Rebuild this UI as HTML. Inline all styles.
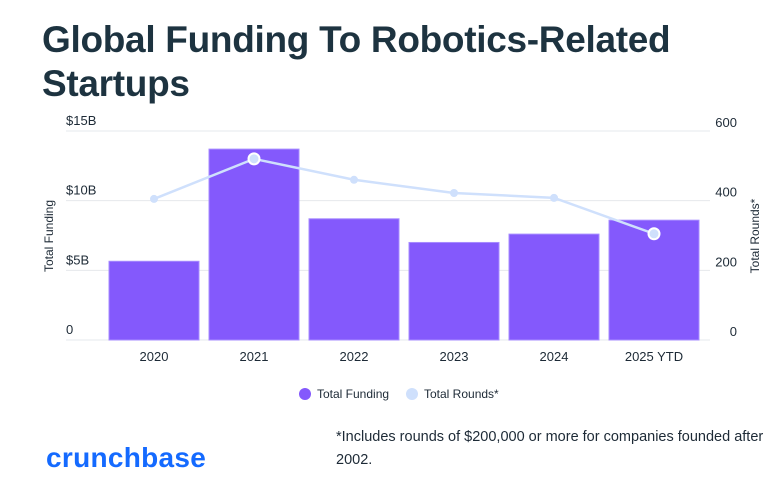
<!DOCTYPE html>
<html><head><meta charset="utf-8"><style>
body{margin:0;width:784px;height:484px;background:#fff;font-family:"Liberation Sans",sans-serif;overflow:hidden;position:relative}
h1{position:absolute;left:42px;top:18px;margin:0;font-size:37px;line-height:44px;color:#1d3340;font-weight:bold;letter-spacing:-0.3px}
.note{position:absolute;left:336px;top:426px;font-size:14.5px;line-height:23px;color:#1d2a36;width:440px}
.logo{position:absolute;left:46px;top:442px;font-size:28px;font-weight:bold;color:#146aff;letter-spacing:0.3px}
</style></head><body>
<h1>Global Funding To Robotics-Related<br>Startups</h1>
<svg id="chart" width="784" height="484" style="position:absolute;left:0;top:0"></svg>
<div class="note">*Includes rounds of $200,000 or more for companies founded after 2002.</div>
<div class="logo">crunchbase</div>
<script>
const categories=["2020","2021","2022","2023","2024","2025 YTD"];
const funding=[5.65,13.7,8.7,7.0,7.6,8.6];
const rounds=[405,520,460,422,408,305];
const leftTicks=[0,5,10,15];
const leftLabels=["0","$5B","$10B","$15B"];
const rightTicks=[0,200,400,600];
const NS="http://www.w3.org/2000/svg";
const svg=document.getElementById('chart');
const y0=340,yTop=131;
const yL=v=>y0-(v/15)*(y0-yTop);
const yR=v=>y0-(v/600)*(y0-yTop);
const xC=i=>154+i*100;
function mk(t,a,txt){const e=document.createElementNS(NS,t);for(const k in a)e.setAttribute(k,a[k]);if(txt!=null)e.textContent=txt;svg.appendChild(e);return e;}
leftTicks.forEach((v,i)=>{
  const g=mk('line',{x1:66,x2:710,y1:yL(v),y2:yL(v),stroke:'#e6e8ec','stroke-width':1});
  
  
  const t=mk('text',{x:66,y:yL(v)-6,'font-size':13,fill:'#1d2a36'},leftLabels[i]);
  
  
});
rightTicks.forEach(v=>{
  const t=mk('text',{x:737,y:yR(v)-4,'font-size':13,fill:'#1d2a36','text-anchor':'end'},String(v));
  
  
});
let a=mk('text',{x:0,y:0,'font-size':12,fill:'#1d2a36','text-anchor':'middle',transform:'translate(53,236) rotate(-90)'},'Total Funding');


a=mk('text',{x:0,y:0,'font-size':12,fill:'#1d2a36','text-anchor':'middle',transform:'translate(759,236) rotate(-90)'},'Total Rounds*');


funding.forEach((v,i)=>{
  const b=mk('rect',{x:xC(i)-45,y:yL(v),width:90,height:y0-yL(v),fill:'#8459fc',stroke:'#a78cff','stroke-width':1});
  
  
  const t=mk('text',{x:xC(i),y:361,'font-size':13,fill:'#1d2a36','text-anchor':'middle'},categories[i]);
  
  
});
const pl=mk('polyline',{points:rounds.map((v,i)=>xC(i)+','+yR(v)).join(' '),fill:'none',stroke:'#cfe0fc','stroke-width':2.5});


rounds.forEach((v,i)=>{
  const big=(i==1||i==5);
  const c=mk('circle',{cx:xC(i),cy:yR(v),r:big?5.5:4,fill:'#cfe0fc',stroke:big?'#fff':'none','stroke-width':2});
  
  
});
let l=mk('circle',{cx:305,cy:394,r:6,fill:'#8459fc'});


l=mk('text',{x:317,y:398,'font-size':12,fill:'#1d2a36'},'Total Funding');


l=mk('circle',{cx:412,cy:394,r:6,fill:'#cfe0fc'});


l=mk('text',{x:424,y:398,'font-size':12,fill:'#1d2a36'},'Total Rounds*');


</script>
</body></html>
